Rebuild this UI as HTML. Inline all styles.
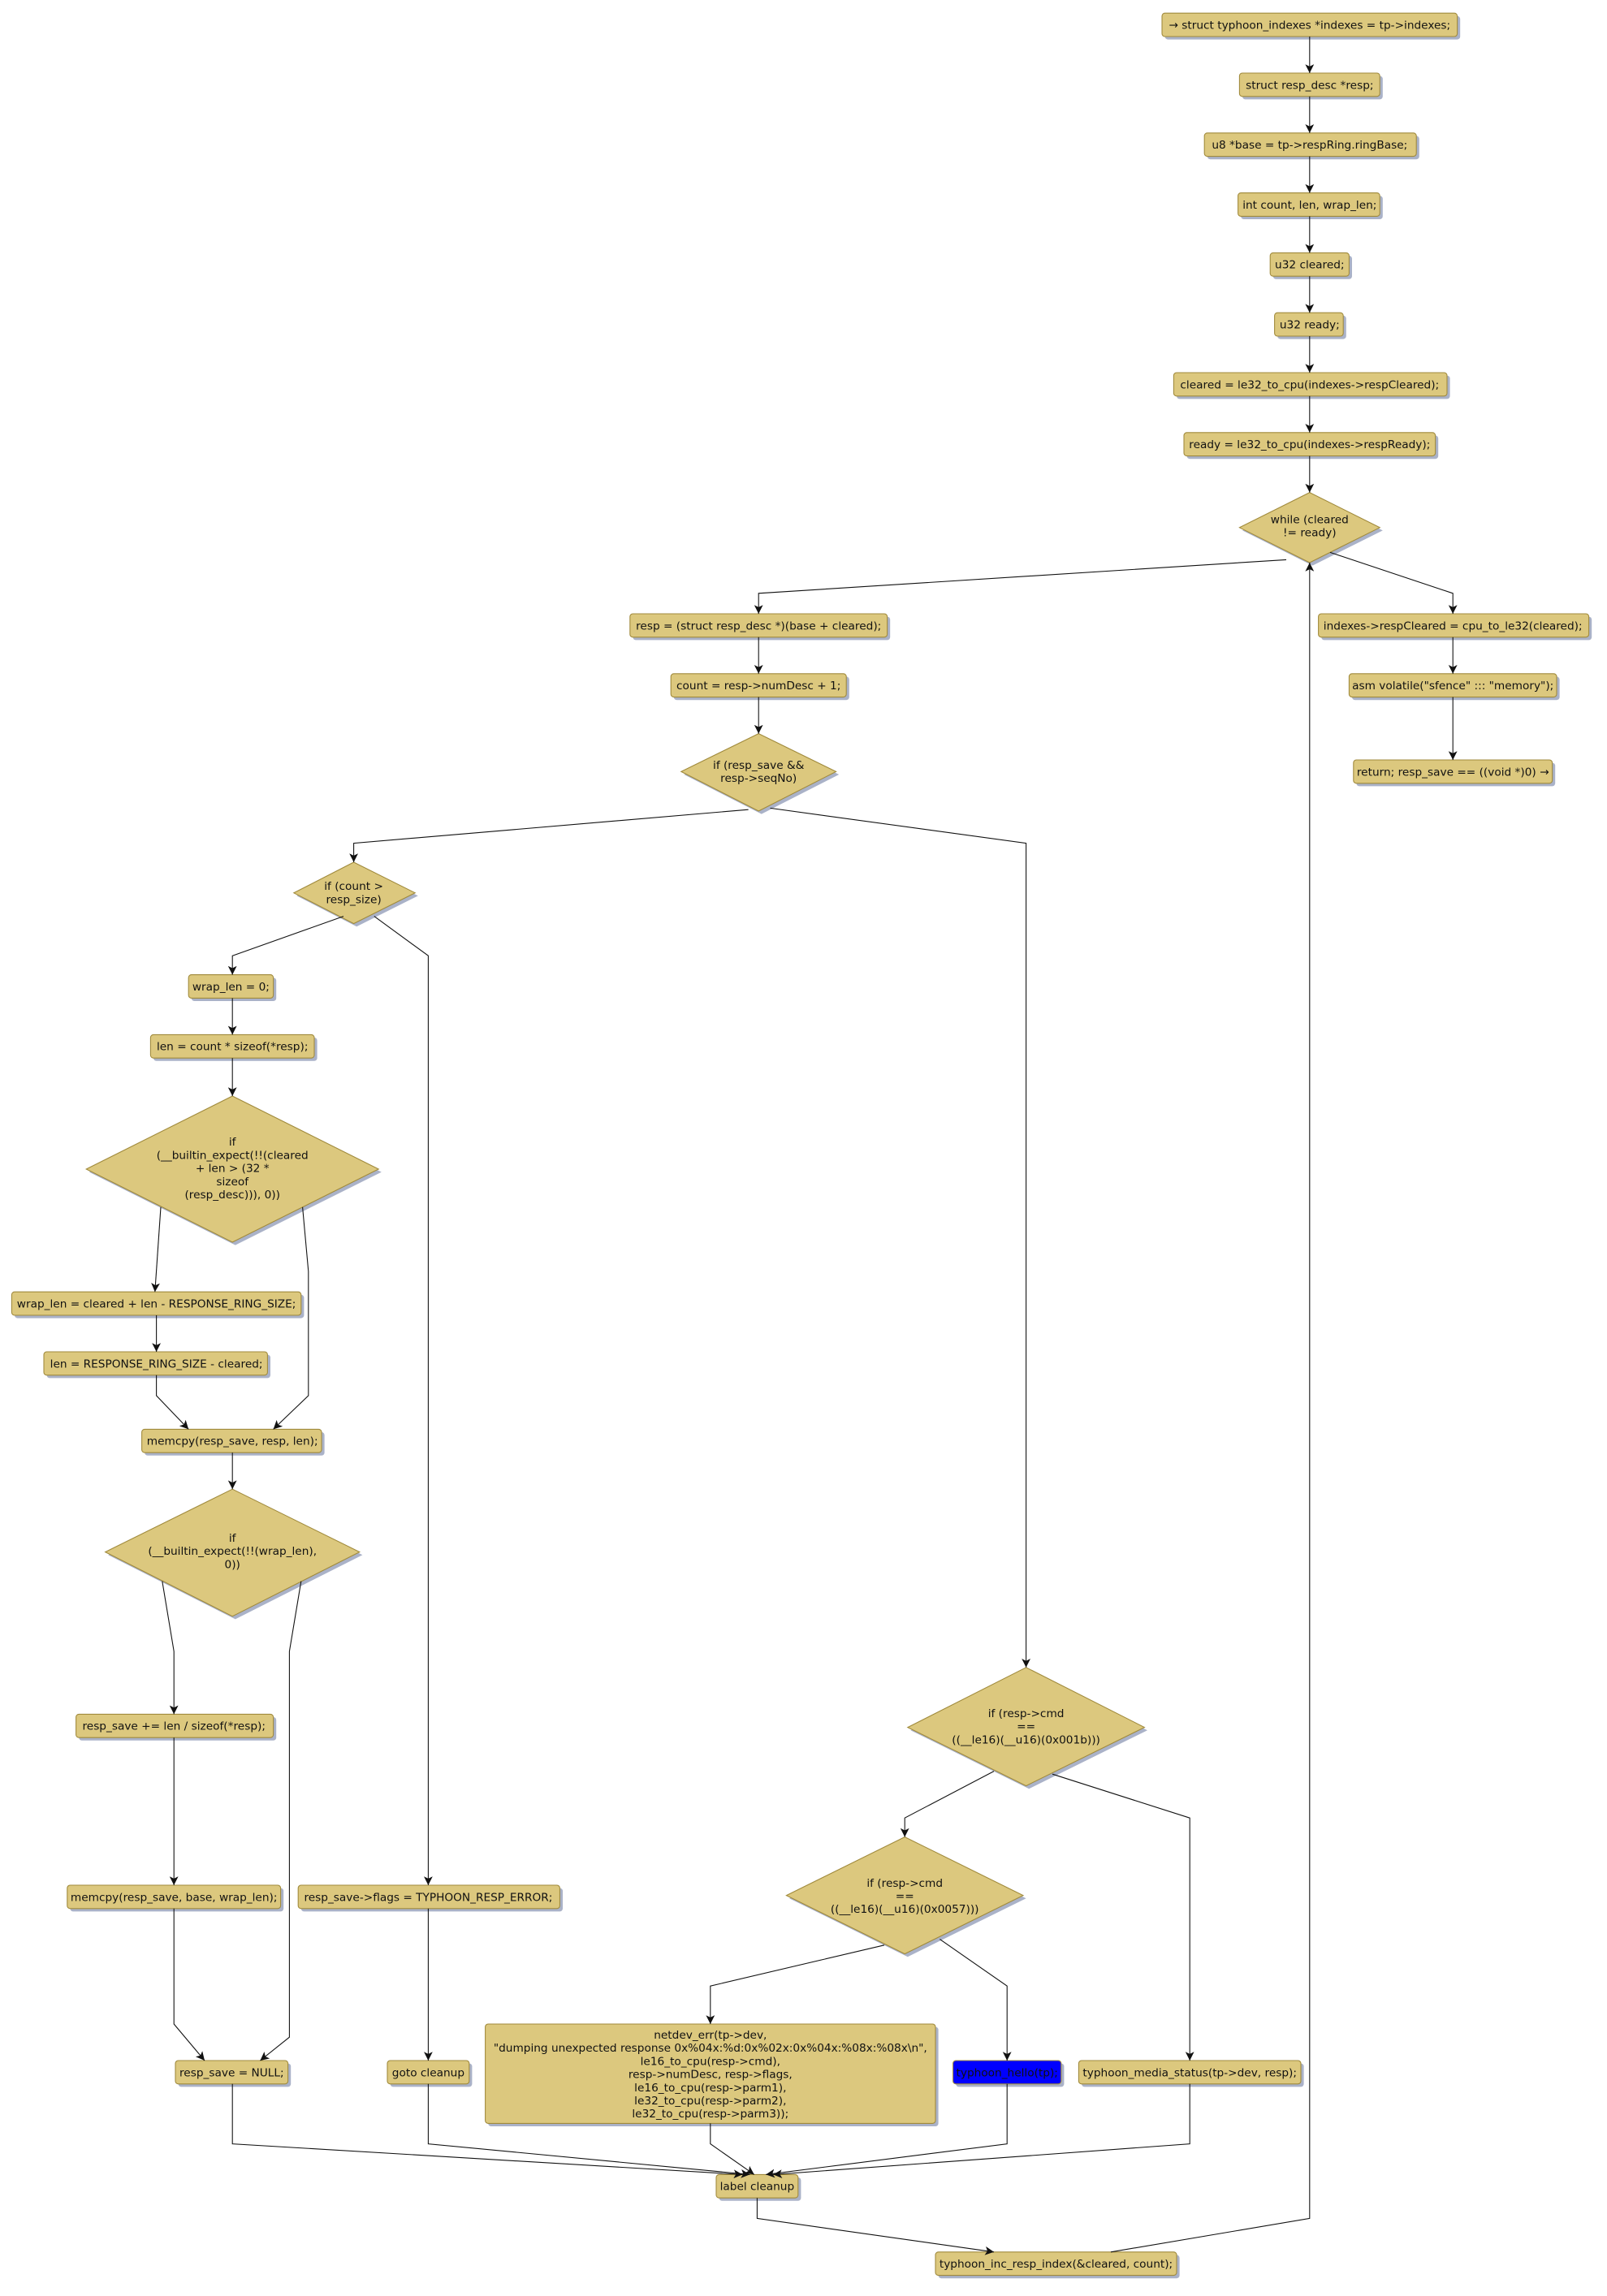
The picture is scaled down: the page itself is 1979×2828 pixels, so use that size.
<!DOCTYPE html>
<html><head><meta charset="utf-8"><style>
html,body{margin:0;padding:0;background:#fff;}
svg{display:block;}
text{font-family:"DejaVu Sans","Liberation Sans",sans-serif;font-size:7.6px;fill:#111;text-anchor:middle;}
.b{fill:#dcc87e;stroke:#a08a3c;stroke-width:0.6;}
.s{fill:#aab2c8;}
.l{fill:none;stroke:#111;stroke-width:0.6;}
</style></head><body>
<svg width="1979" height="2828" viewBox="0 0 1099.44 1571.11" xmlns="http://www.w3.org/2000/svg">
<defs><marker id="a" markerUnits="userSpaceOnUse" markerWidth="8" markerHeight="8" refX="6" refY="3" orient="auto"><path d="M0,0 L6,3 L0,6 L1.5,3 z" fill="#111"/></marker></defs>

<!-- boxes: shadow + box -->
<g>
<rect class="s" x="797" y="11" width="202" height="16" rx="2"/><rect class="b" x="795" y="9" width="202" height="16" rx="2"/><text x="896" y="19.7">→ struct typhoon_indexes *indexes = tp-&gt;indexes;</text>
<rect class="s" x="850" y="52" width="96" height="16" rx="2"/><rect class="b" x="848" y="50" width="96" height="16" rx="2"/><text x="896" y="60.7">struct resp_desc *resp;</text>
<rect class="s" x="826" y="93" width="145" height="16" rx="2"/><rect class="b" x="824" y="91" width="145" height="16" rx="2"/><text x="896" y="101.7">u8 *base = tp-&gt;respRing.ringBase;</text>
<rect class="s" x="849" y="134" width="97" height="16" rx="2"/><rect class="b" x="847" y="132" width="97" height="16" rx="2"/><text x="896" y="142.7">int count, len, wrap_len;</text>
<rect class="s" x="871" y="175" width="54" height="16" rx="2"/><rect class="b" x="869" y="173" width="54" height="16" rx="2"/><text x="896" y="183.7">u32 cleared;</text>
<rect class="s" x="874" y="216" width="47" height="16" rx="2"/><rect class="b" x="872" y="214" width="47" height="16" rx="2"/><text x="896" y="224.7">u32 ready;</text>
<rect class="s" x="805" y="257" width="187" height="16" rx="2"/><rect class="b" x="803" y="255" width="187" height="16" rx="2"/><text x="896" y="265.7">cleared = le32_to_cpu(indexes-&gt;respCleared);</text>
<rect class="s" x="812" y="298" width="172" height="16" rx="2"/><rect class="b" x="810" y="296" width="172" height="16" rx="2"/><text x="896" y="306.7">ready = le32_to_cpu(indexes-&gt;respReady);</text>

<polygon class="s" points="898,339 946,363 898,387 850,363"/><polygon class="b" points="896,337 944,361 896,385 848,361"/><text x="896" y="358">while (cleared</text><text x="896" y="367">!= ready)</text>

<rect class="s" x="433" y="422" width="176" height="16" rx="2"/><rect class="b" x="431" y="420" width="176" height="16" rx="2"/><text x="519" y="430.7">resp = (struct resp_desc *)(base + cleared);</text>
<rect class="s" x="461" y="463" width="120" height="16" rx="2"/><rect class="b" x="459" y="461" width="120" height="16" rx="2"/><text x="519" y="471.7">count = resp-&gt;numDesc + 1;</text>
<polygon class="s" points="521,504 574,530 521,557 468,530"/><polygon class="b" points="519,502 572,528 519,555 466,528"/><text x="519" y="526">if (resp_save &amp;&amp;</text><text x="519" y="535">resp-&gt;seqNo)</text>

<rect class="s" x="904" y="422" width="185" height="16" rx="2"/><rect class="b" x="902" y="420" width="185" height="16" rx="2"/><text x="994" y="430.7">indexes-&gt;respCleared = cpu_to_le32(cleared);</text>
<rect class="s" x="925" y="463" width="142" height="16" rx="2"/><rect class="b" x="923" y="461" width="142" height="16" rx="2"/><text x="994" y="471.7">asm volatile("sfence" ::: "memory");</text>
<rect class="s" x="928" y="522" width="136" height="16" rx="2"/><rect class="b" x="926" y="520" width="136" height="16" rx="2"/><text x="994" y="530.7">return; resp_save == ((void *)0) →</text>

<polygon class="s" points="244,592 286,613 244,634 203,613"/><polygon class="b" points="242,590 284,611 242,632 201,611"/><text x="242" y="609">if (count &gt;</text><text x="242" y="618">resp_size)</text>

<rect class="s" x="131" y="669" width="58" height="16" rx="2"/><rect class="b" x="129" y="667" width="58" height="16" rx="2"/><text x="158" y="677.7">wrap_len = 0;</text>
<rect class="s" x="105" y="710" width="112" height="16" rx="2"/><rect class="b" x="103" y="708" width="112" height="16" rx="2"/><text x="159" y="718.7">len = count * sizeof(*resp);</text>

<polygon class="s" points="161,752 261,802 161,852 61,802"/><polygon class="b" points="159,750 259,800 159,850 59,800"/>
<text x="159" y="784">if</text><text x="159" y="793">(__builtin_expect(!!(cleared</text><text x="159" y="802">+ len &gt; (32 *</text><text x="159" y="811">sizeof</text><text x="159" y="820">(resp_desc))), 0))</text>

<rect class="s" x="10" y="886" width="198" height="16" rx="2"/><rect class="b" x="8" y="884" width="198" height="16" rx="2"/><text x="107" y="894.7">wrap_len = cleared + len - RESPONSE_RING_SIZE;</text>
<rect class="s" x="32" y="927" width="153" height="16" rx="2"/><rect class="b" x="30" y="925" width="153" height="16" rx="2"/><text x="107" y="935.7">len = RESPONSE_RING_SIZE - cleared;</text>
<rect class="s" x="99" y="980" width="123" height="16" rx="2"/><rect class="b" x="97" y="978" width="123" height="16" rx="2"/><text x="159" y="988.7">memcpy(resp_save, resp, len);</text>

<polygon class="s" points="161,1021 248,1064 161,1108 74,1064"/><polygon class="b" points="159,1019 246,1062 159,1106 72,1062"/>
<text x="159" y="1055">if</text><text x="159" y="1064">(__builtin_expect(!!(wrap_len),</text><text x="159" y="1073">0))</text>

<rect class="s" x="54" y="1175" width="135" height="16" rx="2"/><rect class="b" x="52" y="1173" width="135" height="16" rx="2"/><text x="119" y="1183.7">resp_save += len / sizeof(*resp);</text>
<rect class="s" x="48" y="1292" width="146" height="16" rx="2"/><rect class="b" x="46" y="1290" width="146" height="16" rx="2"/><text x="119" y="1300.7">memcpy(resp_save, base, wrap_len);</text>
<rect class="s" x="122" y="1412" width="77" height="16" rx="2"/><rect class="b" x="120" y="1410" width="77" height="16" rx="2"/><text x="158.5" y="1420.7">resp_save = NULL;</text>
<rect class="s" x="206" y="1292" width="179" height="16" rx="2"/><rect class="b" x="204" y="1290" width="179" height="16" rx="2"/><text x="293" y="1300.7">resp_save-&gt;flags = TYPHOON_RESP_ERROR;</text>
<rect class="s" x="267" y="1412" width="56" height="16" rx="2"/><rect class="b" x="265" y="1410" width="56" height="16" rx="2"/><text x="293" y="1420.7">goto cleanup</text>

<polygon class="s" points="704,1143 785,1184 704,1224 623,1184"/><polygon class="b" points="702,1141 783,1182 702,1222 621,1182"/>
<text x="702" y="1175">if (resp-&gt;cmd</text><text x="702" y="1184">==</text><text x="702" y="1193">((__le16)(__u16)(0x001b)))</text>
<polygon class="s" points="621,1259 702,1299 621,1339 540,1299"/><polygon class="b" points="619,1257 700,1297 619,1337 538,1297"/>
<text x="619" y="1291">if (resp-&gt;cmd</text><text x="619" y="1300">==</text><text x="619" y="1309">((__le16)(__u16)(0x0057)))</text>

<rect class="s" x="334" y="1387" width="308" height="68" rx="2"/><rect class="b" x="332" y="1385" width="308" height="68" rx="2"/>
<text x="486" y="1395">netdev_err(tp-&gt;dev,</text>
<text x="486" y="1404">"dumping unexpected response 0x%04x:%d:0x%02x:0x%04x:%08x:%08x\n",</text>
<text x="486" y="1413">le16_to_cpu(resp-&gt;cmd),</text>
<text x="486" y="1422">resp-&gt;numDesc, resp-&gt;flags,</text>
<text x="486" y="1431">le16_to_cpu(resp-&gt;parm1),</text>
<text x="486" y="1440">le32_to_cpu(resp-&gt;parm2),</text>
<text x="486" y="1449">le32_to_cpu(resp-&gt;parm3));</text>

<rect class="s" x="654" y="1412" width="74" height="16" rx="2"/><rect x="652" y="1410" width="74" height="16" rx="2" fill="#0000ff" stroke="#a08a3c" stroke-width="0.6"/><text x="689" y="1420.7">typhoon_hello(tp);</text>
<rect class="s" x="740" y="1412" width="152" height="16" rx="2"/><rect class="b" x="738" y="1410" width="152" height="16" rx="2"/><text x="814" y="1420.7">typhoon_media_status(tp-&gt;dev, resp);</text>

<rect class="s" x="492" y="1490" width="56" height="16" rx="2"/><rect class="b" x="490" y="1488" width="56" height="16" rx="2"/><text x="518" y="1498.7">label cleanup</text>
<rect class="s" x="642" y="1543" width="165" height="16" rx="2"/><rect class="b" x="640" y="1541" width="165" height="16" rx="2"/><text x="722.5" y="1551.7">typhoon_inc_resp_index(&amp;cleared, count);</text>
</g>

<!-- connectors -->
<g marker-end="url(#a)">
<path class="l" d="M896,25 V50"/><path class="l" d="M896,66 V91"/><path class="l" d="M896,107 V132"/><path class="l" d="M896,148 V173"/>
<path class="l" d="M896,189 V214"/><path class="l" d="M896,230 V255"/><path class="l" d="M896,271 V296"/><path class="l" d="M896,312 V337"/>
<path class="l" d="M880,383 L519,406 V420"/>
<path class="l" d="M910,378 L994,406 V420"/>
<path class="l" d="M994,436 V461"/><path class="l" d="M994,477 V520"/>
<path class="l" d="M519,436 V461"/><path class="l" d="M519,477 V502"/>
<path class="l" d="M512,554 L242,577 V590"/>
<path class="l" d="M527,553 L702,577 V1141"/>
<path class="l" d="M235,627 L159,654 V667"/>
<path class="l" d="M256,627 L293,654 V1290"/>
<path class="l" d="M159,683 V708"/><path class="l" d="M159,724 V750"/>
<path class="l" d="M110,826 L106,884"/>
<path class="l" d="M207,826 L211,870 V955 L187,978"/>
<path class="l" d="M107,900 V925"/>
<path class="l" d="M107,941 V955 L129,978"/>
<path class="l" d="M159,994 V1019"/>
<path class="l" d="M111,1082 L119,1130 V1173"/>
<path class="l" d="M206,1082 L198,1130 V1394 L178,1410"/>
<path class="l" d="M119,1189 V1290"/>
<path class="l" d="M119,1306 V1385 L140,1410"/>
<path class="l" d="M293,1306 V1410"/>
<path class="l" d="M680,1212 L619,1244 V1257"/>
<path class="l" d="M720,1214 L814,1244 V1410"/>
<path class="l" d="M605,1331 L486,1359 V1385"/>
<path class="l" d="M643,1327 L689,1359 V1410"/>
<path class="l" d="M159,1426 V1467 L508,1488"/>
<path class="l" d="M293,1426 V1467 L513,1488"/>
<path class="l" d="M486,1453 V1467 L516,1488"/>
<path class="l" d="M689,1426 V1467 L524,1488"/>
<path class="l" d="M814,1426 V1467 L529,1488"/>
<path class="l" d="M518,1504 V1518 L680,1541"/>
<path class="l" d="M760,1541 L896,1518 V385"/>
</g>
</svg>
</body></html>
